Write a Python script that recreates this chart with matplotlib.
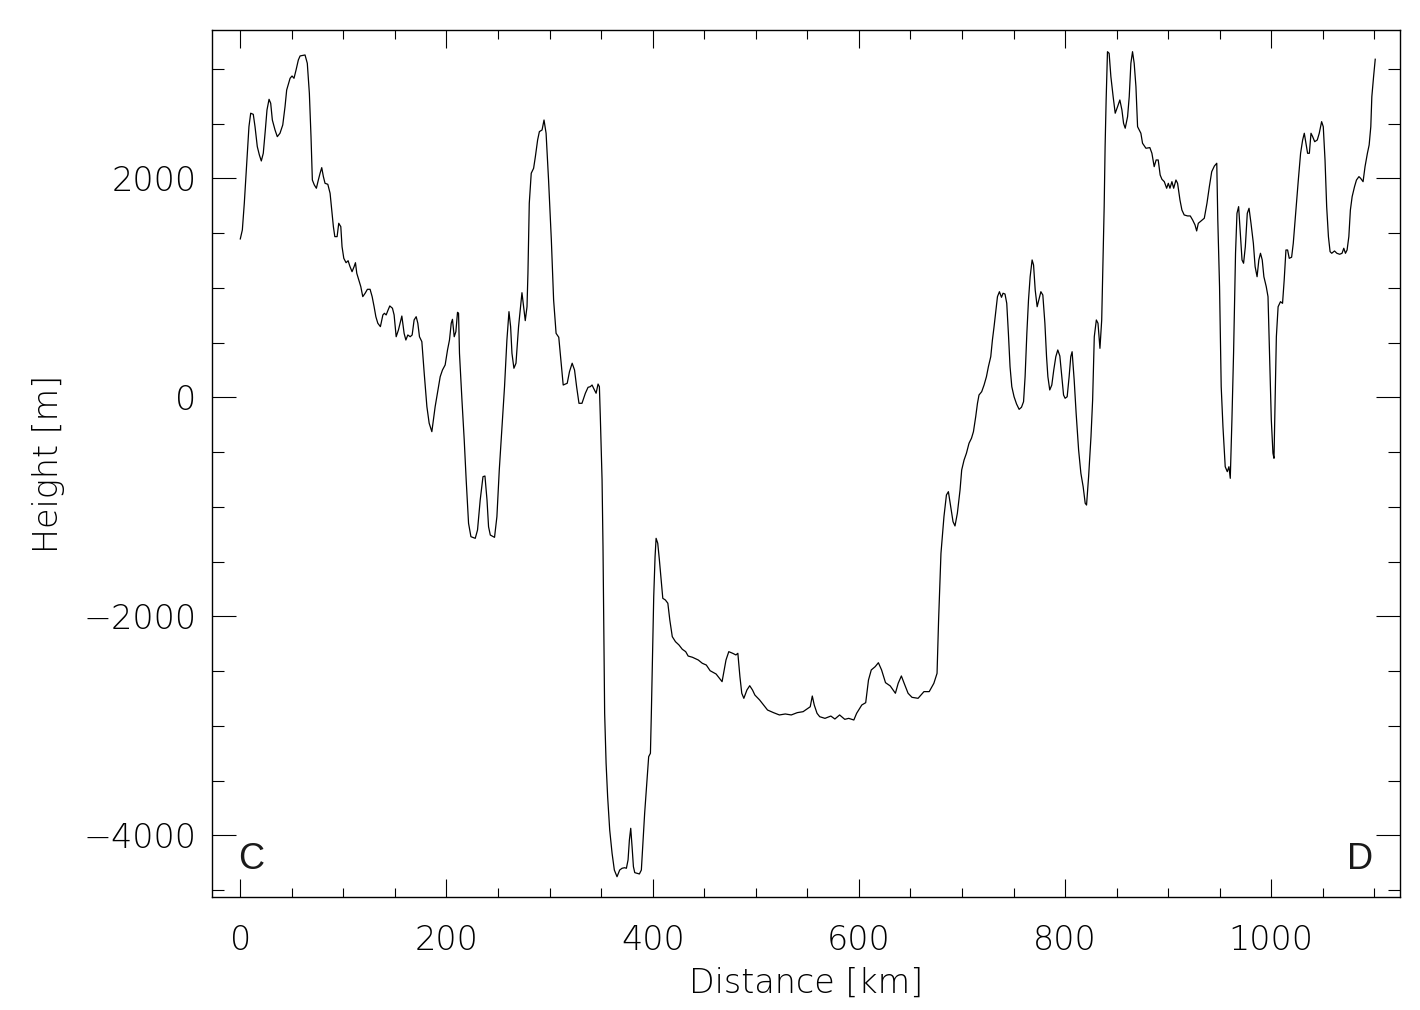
import matplotlib
matplotlib.use('Agg')
import matplotlib.pyplot as plt
from matplotlib.ticker import MultipleLocator

plt.rcParams['font.family'] = ['DejaVu Sans']
plt.rcParams['font.weight'] = 'ultralight'
plt.rcParams['axes.labelweight'] = 'ultralight'
plt.rcParams['axes.unicode_minus'] = True
plt.rcParams['xtick.top'] = True
plt.rcParams['xtick.direction'] = 'in'
plt.rcParams['xtick.major.size'] = 13
plt.rcParams['xtick.minor.size'] = 6.5
plt.rcParams['xtick.major.width'] = 0.8
plt.rcParams['xtick.minor.width'] = 0.8
plt.rcParams['ytick.right'] = True
plt.rcParams['ytick.direction'] = 'in'
plt.rcParams['ytick.major.size'] = 17
plt.rcParams['ytick.minor.size'] = 8.6
plt.rcParams['ytick.major.width'] = 0.8
plt.rcParams['ytick.minor.width'] = 0.8

# profile C -> D, distance in km, height in m
dist_km = [
    0, 2, 3.9, 6.2, 8.4, 10.1, 12.6, 14.3, 16.5, 18.5, 20.4, 22.3, 24.3, 25.9, 27.9, 29.5,
    31.1, 33.7, 35.9, 38.5, 41.2, 43.4, 45, 48.3, 50.2, 52.1, 54.1, 56.3, 58, 62.8, 65, 67,
    68.6, 69.9, 71.8, 73.8, 75.7, 77.4, 79, 80.6, 82.2, 84.9, 87.1, 88.7, 90.3, 91.7, 93.9,
    95.5, 97.5, 98.7, 100.4, 102.6, 104.6, 106.2, 108.4, 110.4, 111.7, 113, 115, 116.9,
    118.8, 121.1, 123.3, 125.9, 127.9, 129.8, 131.5, 133.4, 135.9, 138.3, 139.8, 141.5,
    143.1, 145, 147.6, 149.2, 151.2, 153.4, 155, 156.7, 158.9, 160.6, 162.5, 164.8, 166.7,
    168.6, 170.6, 172.2, 173.8, 176.1, 178.4, 181, 183.2, 185.8, 189, 191.7, 193.9, 196.1,
    198.7, 201, 202.9, 204.6, 205.8, 207.5, 209.1, 210.7, 211.7,
    212.6, 215, 217.2, 219.1, 221.4, 223.7, 227.9, 230.1, 232.7, 235.4, 237.3, 239.3, 240.8,
    242.5, 246.6, 248.9, 251.2, 253.8, 256.3, 258.6, 260.6, 262.2, 263.5, 265.4, 267.4,
    269.9, 271.8, 273.2, 274.8, 276.4, 278.1, 279, 280.3, 282.2, 284.5, 286.2, 288.4, 290.1,
    292.7, 294.6, 296.6, 299, 301.7, 303.9, 306.3, 308.9, 311.2, 313.2, 317.1, 319.3, 321.9,
    324.2, 326.2, 328.5, 331.4, 334.7, 337.3, 339.5, 341.2, 342.7, 345.1, 347, 348.3, 349.2,
    350.9, 351.8, 352.4, 353.4, 354.8, 356.3, 358.3, 360.6, 362.8, 365.4, 368, 370.3, 372.8,
    374.5, 376.1, 377.4, 378.7, 380, 381.3, 382.6, 384.9, 387.1, 389, 390.3, 392.2, 394.5,
    396.1, 397.8, 398.7, 400, 401, 402.3, 403.3, 404.9, 406.5, 408.2, 409.8, 412.3, 414.7,
    416.6, 419, 422.1, 425.5, 428.7, 432, 434.4,
    438.5, 444.2, 448.1, 452, 455.7, 461.5, 467.3, 471.1, 473.8, 477.6, 480.7, 482.6, 484.6,
    486.4, 488.4, 491.4, 494.1, 496.8, 499.1, 503.7, 507.6, 511.4, 517.2, 522.9, 528.6,
    534.4, 540.2, 545.9, 550.6, 552.8, 554.8, 556.7, 559.4, 562, 567.1, 572.8, 576.7, 581.3,
    586.3, 590.1, 595.1, 597.8, 602.8, 606.6, 609.3, 612, 615.8, 618.9, 622, 625.8, 630.4,
    635.4, 638.1, 641.2, 643.9, 647.7, 651.5, 657.4, 663.1, 668.2, 672.7, 675.8, 677.3, 679.6,
    682.5, 684.9, 686.8, 689.1, 691.3, 693.2, 695.5, 698.1, 699.7, 702, 704.3, 706.8, 709.2,
    711.1, 713.3, 715, 716.5, 719.1, 721.4, 723.7, 725.6, 727.9, 729.5, 731.1, 732.7, 734.4,
    736.3, 738.3, 739.8, 741.7, 743.4, 745, 746.6, 748.3, 750.5, 752.9, 755.4, 757.7, 759.7,
    761.2, 762.9, 764.5, 766.1, 768, 769.4, 771, 772.9, 774.5, 776.5, 778.4, 780.4, 782,
    783.3, 785.1, 787.1, 789, 791, 792.9, 794.9, 796.8, 798.5, 800, 802, 803.9, 805.5, 806.8,
    808.8, 810.7, 813.1, 815.3, 817.5, 819.5, 820.8, 822.8, 825.1, 826.7, 828.3, 830.3,
    831.9, 833.8, 835.5,
    837.9, 838.8, 839.8, 841.1, 842.7, 844.4, 846.6, 848.6, 850.9, 853.1, 855.1, 856.7,
    858.3, 860.6, 862.2, 863.8, 865.4, 867, 868.7, 870.3, 871.9, 873.5, 875.1, 878.4, 882.2,
    884.2, 886.4, 888.3, 890.3, 892.2, 893.9, 896.2, 898.5, 900.1, 901.7, 903.6, 905.3,
    907.5, 909.1, 911.4, 913.3, 915.5, 918.8, 921.4, 923.7, 926, 927.6, 929.2, 931.8, 935,
    937.6, 939.9, 942.2, 944.8, 947.1, 948.1, 949.8, 951.4, 953.1, 955.3, 957.3, 958.9,
    960.2, 961.8, 963.4, 965.3, 966.7, 968.3, 969.9, 971.6, 973.1, 974.8, 976.7, 978.4,
    980.3, 982.6, 984.3, 986.2, 987.9, 989.5, 991.2, 992.8, 995.1, 996.8, 998.3, 1000,
    1001.6, 1002.6, 1003.9, 1004.9, 1006.6, 1008.9, 1010.9, 1012.5, 1014.2, 1015.8, 1017.4,
    1019.7, 1021.3, 1023.6, 1026.2, 1028.4, 1030.4, 1032, 1033.6, 1035.2, 1036.9, 1038.5,
    1040.1, 1042.1, 1044.6, 1046.5, 1048.8, 1050.4, 1052.1, 1053.7, 1055.4, 1057, 1058.6,
    1061.3, 1063.6, 1066.3, 1068.6, 1070.3, 1071.9, 1073.5, 1075.2, 1076.7, 1078.4, 1080.7,
    1082.6, 1085, 1086.6, 1089, 1090.9, 1093.2, 1094.9, 1096.5, 1097.5, 1099.2, 1100.8,
]
height_m = [
    1446, 1528, 1772, 2137, 2471, 2594, 2584, 2471, 2289, 2213, 2158, 2228, 2441, 2624, 2721, 2685,
    2532, 2441, 2380, 2411, 2487, 2654, 2806, 2913, 2934, 2913, 2989, 3080, 3117, 3126, 3050, 2776,
    2380, 1984, 1939, 1909, 1984, 2046, 2097, 2015, 1954, 1945, 1863, 1710, 1558, 1467, 1467,
    1589, 1558, 1375, 1269, 1229, 1247, 1199, 1147, 1193, 1229, 1132, 1071, 1010,
    919, 950, 986, 986, 919, 827, 736, 676, 645, 752, 767, 752,
    791, 834, 813, 752, 553, 615, 676, 742, 584, 523, 569, 553, 569,
    706, 736, 676, 553, 508, 219, -86, -237, -314, -86, 67, 188, 249,
    295, 432, 523, 676, 712, 553, 599, 776, 767,
    402, -25, -390, -755, -1151, -1273, -1288, -1212, -938, -725, -719, -938, -1182,
    -1258, -1279, -1090, -664, -268, 97, 523, 782, 645, 402, 265, 311,
    645, 827, 955, 827, 700, 827, 1132, 1772, 2046, 2091, 2197, 2350, 2426,
    2441, 2532, 2411, 1984, 1437, 889, 584, 548, 311, 112, 128, 234, 311,
    249, 97, -55, -55, 37, 91, 97, 112, 82, 37, 121, 97, -177,
    -755, -1364, -1973, -2886, -3342, -3647, -3951, -4164, -4317, -4378, -4317, -4301, -4296,
    -4301, -4225, -4043, -3936, -4104, -4286, -4341, -4347, -4353, -4317, -4104, -3799, -3495,
    -3282, -3251, -2886, -2278, -1821, -1456, -1288, -1333, -1486, -1668, -1836, -1851, -1881,
    -2034, -2186, -2232, -2262, -2301, -2323, -2363,
    -2374, -2399, -2429, -2445, -2497, -2527, -2597, -2399, -2323, -2338, -2353, -2338, -2551,
    -2703, -2749, -2673, -2634, -2673, -2719, -2764, -2810, -2856, -2880, -2901, -2892,
    -2901, -2880, -2871, -2840, -2826, -2728, -2810, -2886, -2917, -2932, -2911, -2938, -2901,
    -2941, -2932, -2947, -2886, -2810, -2789, -2582, -2490, -2460, -2424, -2490, -2606, -2636,
    -2703, -2612, -2545, -2612, -2703, -2740, -2749, -2688, -2688, -2612, -2521, -2034, -1425,
    -1090, -892, -862, -999, -1136, -1175, -1059, -847, -664, -573, -511, -420, -374,
    -314, -177, -55, 21, 51, 112, 188, 279, 371, 523, 645, 782, 919,
    964, 913, 950, 943, 858, 584, 279, 97, 5, -61, -110, -91, -40,
    188, 584, 889, 1101, 1254, 1208, 980, 827, 889, 964, 934, 676, 371,
    188, 67, 112, 249, 371, 432, 377, 188, 21, -9, 5, 188, 371, 416,
    158, -146, -481, -694, -816, -968, -984, -725, -360, -25, 553, 706,
    676, 447, 706,
    1741, 2289, 2715, 3156, 3141, 2928, 2745, 2594, 2654, 2715, 2624, 2502,
    2457, 2563, 2745, 3050, 3156, 3050, 2837, 2471, 2441, 2411, 2320, 2274, 2280,
    2228, 2106, 2167, 2167, 2030, 1991, 1969, 1909, 1954, 1909, 1969, 1909,
    1984, 1954, 1802, 1710, 1665, 1656, 1656, 1619, 1574, 1519, 1589, 1610, 1635,
    1772, 1923, 2060, 2112, 2137, 1619, 1010, 97, -268, -634, -679, -634,
    -740, -207, 402, 1315, 1680, 1741, 1498, 1254, 1224, 1375, 1680, 1726,
    1589, 1406, 1193, 1101, 1254, 1315, 1254, 1101, 1010, 919, 402, -207,
    -511, -557, 97, 553, 827, 873, 858, 1071, 1345, 1345, 1269,
    1279, 1406, 1680, 1984, 2228, 2350, 2411, 2320, 2228, 2228, 2411,
    2380, 2334, 2350, 2411, 2517, 2471, 2167, 1741, 1467, 1330, 1315,
    1336, 1315, 1306, 1315, 1361, 1315, 1345, 1467, 1710, 1832, 1923,
    1984, 2015, 2000, 1969, 2106, 2228, 2304, 2471, 2745, 2928, 3087,
]
start_label = 'C'
end_label = 'D'

fig = plt.figure(figsize=(14.2, 10.1), dpi=100)
ax = fig.add_axes([0.1491, 0.1116, 0.8368, 0.8587])
ax.plot(dist_km, height_m, color='black', linewidth=0.9)

ax.set_xlim(-27.7, 1124.8)
ax.set_ylim(-4566, 3354)
ax.xaxis.set_major_locator(MultipleLocator(200))
ax.xaxis.set_minor_locator(MultipleLocator(50))
ax.yaxis.set_major_locator(MultipleLocator(2000))
ax.yaxis.set_minor_locator(MultipleLocator(500))
ax.tick_params(axis='x', which='major', labelsize=24, pad=19)
ax.tick_params(axis='y', which='major', labelsize=24, pad=11)
for s in ax.spines.values():
    s.set_linewidth(1.0)

ax.set_xlabel('Distance [km]', fontsize=24, labelpad=7)
ax.set_ylabel('Height [m]', fontsize=24, labelpad=13)

ax.text(0.0335, 0.044, start_label, transform=ax.transAxes, fontsize=26,
        family='Liberation Sans', weight='normal', ha='center', va='center', color='#1a1a1a')
ax.text(0.9665, 0.044, end_label, transform=ax.transAxes, fontsize=26,
        family='Liberation Sans', weight='normal', ha='center', va='center', color='#1a1a1a')

fig.savefig('out.png', dpi=100)
